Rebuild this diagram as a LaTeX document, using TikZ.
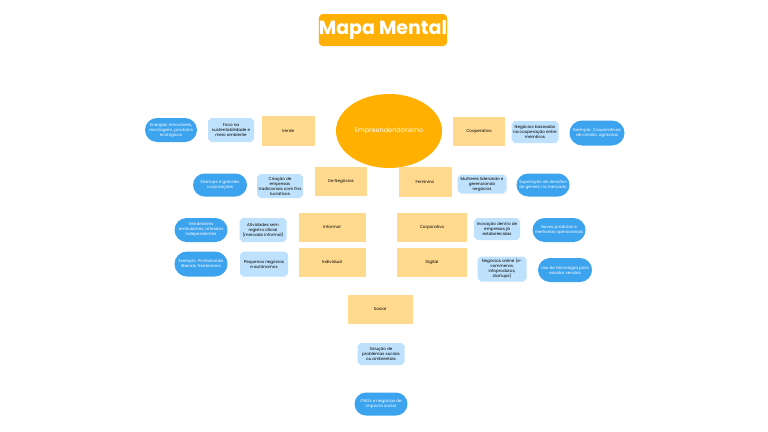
\documentclass[tikz,border=0pt]{standalone}
\usepackage{fontspec}
\setmainfont{Poppins}
\usetikzlibrary{shapes.misc,shapes.geometric}
\hyphenpenalty=10000
\definecolor{titleor}{HTML}{FFB005}
\definecolor{ellor}{HTML}{FFB000}
\definecolor{catfill}{HTML}{FFD98E}
\definecolor{descfill}{HTML}{BEE2FD}
\definecolor{exfill}{HTML}{3CA3EF}
\tikzset{
  small/.style={font=\fontsize{4.1}{5}\selectfont},
  cat/.style={small, fill=catfill, draw=none, inner sep=0pt, align=center},
  desc/.style={small, chamfered rectangle, chamfered rectangle xsep=1.5pt, chamfered rectangle ysep=1.5pt, fill=descfill, draw=none, inner sep=0pt, align=center},
  ex/.style={small, rounded rectangle, rounded rectangle arc length=180, fill=exfill, text=white, draw=none, inner sep=0pt, align=center},
}
\begin{document}
\begin{tikzpicture}[x=1pt,y=-1pt]
\useasboundingbox (0,0) rectangle (768,431);
\fill[white] (0,0) rectangle (768,431);
% title
\node[fill=titleor, rounded corners=4pt, minimum width=124pt, minimum height=32pt, text=white, font=\fontsize{19}{22}\selectfont\bfseries, inner sep=0pt] (title) at (383,30) {Mapa Mental};
% center
\node[ellipse, fill=ellor, minimum width=106pt, minimum height=74pt, text=white, font=\fontsize{6.5}{8}\selectfont, inner sep=0pt] (root) at (389,131) {Empreendendorismo};
% categories
\node[cat, minimum width=53pt, minimum height=30pt] (verde) at (288,131) {Verde};
\node[cat, minimum width=52pt, minimum height=29pt] (coop) at (479,131) {Cooperativo};
\node[cat, minimum width=52pt, minimum height=29pt] (neg) at (341,181) {De Negócios};
\node[cat, minimum width=53pt, minimum height=30pt] (fem) at (425,182) {Feminino};
\node[cat, minimum width=67pt, minimum height=29pt] (inf) at (332,227) {Informal};
\node[cat, minimum width=70pt, minimum height=29pt] (corp) at (432,227) {Corporativo};
\node[cat, minimum width=67pt, minimum height=29pt] (ind) at (332,262) {Individual};
\node[cat, minimum width=70pt, minimum height=29pt] (dig) at (432,262) {Digital};
\node[cat, minimum width=65pt, minimum height=29pt] (soc) at (380,309) {Social};
% descriptions
\node[desc, minimum width=46pt, minimum height=24pt] (dverde) at (231,130) {Foco na\\ sustentabilidade e\\ meio ambiente};
\node[desc, minimum width=47pt, minimum height=22pt] (dcoop) at (535,132) {Negócios baseados\\ na cooperação entre\\ membros};
\node[desc, minimum width=45pt, minimum height=24pt] (dneg) at (280,186) {Criação de\\ empresas\\ tradicionais com fins\\ lucrativos};
\node[desc, minimum width=49pt, minimum height=19pt] (dfem) at (482,184) {Mulheres liderando e\\ gerenciando\\ negócios};
\node[desc, minimum width=47pt, minimum height=24pt] (dinf) at (263,230) {Atividades sem\\ registro oficial\\ (mercado informal)};
\node[desc, minimum width=46pt, minimum height=22pt] (dcorp) at (497,229) {Inovação dentro de\\ empresas já\\ estabelecidas};
\node[desc, minimum width=48pt, minimum height=25pt] (dind) at (264,264) {Pequenos negócios\\ e autônomos};
\node[desc, minimum width=49pt, minimum height=25pt] (ddig) at (502,269) {Negócios online (e-\\ commerce,\\ infoprodutos,\\ startups)};
\node[desc, minimum width=47pt, minimum height=22pt] (dsoc) at (381,354) {Solução de\\ problemas sociais\\ ou ambientais};
% examples
\node[ex, minimum width=52pt, minimum height=24pt] (everde) at (171,130) {Energias renováveis,\\ reciclagem, produtos\\ ecológicos};
\node[ex, minimum width=55pt, minimum height=25pt] (ecoop) at (597,133) {Exemplo: Cooperativas\\ de crédito, agrícolas};
\node[ex, minimum width=54pt, minimum height=23pt] (eneg) at (220,185) {Startups e grandes\\ corporações};
\node[ex, minimum width=53pt, minimum height=23pt] (efem) at (543,185) {Superação de desafios\\ de gênero no mercado};
\node[ex, minimum width=53pt, minimum height=24pt] (einf) at (201,230) {Vendedores\\ ambulantes, artesãos\\ independentes};
\node[ex, minimum width=53pt, minimum height=24pt] (ecorp) at (559,230) {Novos produtos e\\ melhorias operacionais};
\node[ex, minimum width=53pt, minimum height=25pt] (eind) at (201,264) {Exemplo: Profissionais\\ liberais, freelancers};
\node[ex, minimum width=54pt, minimum height=24pt] (edig) at (565,270) {Uso de tecnologia para\\ escalar vendas};
\node[ex, minimum width=53pt, minimum height=23pt] (esoc) at (381,404) {ONGs e negócios de\\ impacto social};
\end{tikzpicture}
\end{document}
